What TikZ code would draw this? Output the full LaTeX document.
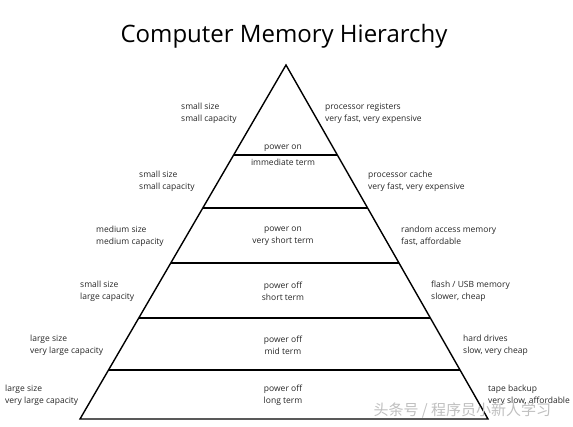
\documentclass[tikz,border=0pt]{standalone}
\usepackage{fontspec}
\setmainfont{Open Sans}
\newfontfamily\cjkfont{Noto Sans CJK SC}
\usetikzlibrary{calc}
\begin{document}
\begin{tikzpicture}[
  x=1pt, y=-1pt,
  level/.style={line width=1.4pt, draw=black},
  lbl/.style={font=\fontsize{8.5}{12}\selectfont, inner sep=0pt, align=left, anchor=west, text=black!85},
  mid/.style={font=\fontsize{8.5}{12}\selectfont, inner sep=0pt, align=center, text=black!85}
]
  \useasboundingbox (0,0) rectangle (573,426);

  % Title
  \node[font=\fontsize{24}{28}\selectfont] (title) at (284,36) {Computer Memory Hierarchy};

  % Corners of the pyramid
  \coordinate (top) at (286,65);
  \coordinate (bl) at (80,419);
  \coordinate (br) at (488,419);
  \draw[level, line join=miter] (bl) -- (top) -- (br) -- cycle;

  % Horizontal levels
  \foreach \t [count=\i] in {0.254,0.404,0.559,0.715,0.862} {
    \coordinate (l\i) at ($(top)!\t!(bl)$);
    \coordinate (r\i) at ($(top)!\t!(br)$);
    \draw[level] (l\i) -- (r\i);
  }

  % Inside the pyramid
  \node[mid] (c1) at (283,155) {power on\\[4pt]immediate term};
  \node[mid] (c2) at (283,236) {power on\\very short term};
  \node[mid] (c3) at (283,291) {power off\\short term};
  \node[mid] (c4) at (283,345) {power off\\mid term};
  \node[mid] (c5) at (283,395) {power off\\long term};

  % Left side
  \node[lbl] (s0) at (181,113) {small size\\small capacity};
  \node[lbl] (s1) at (139,181) {small size\\small capacity};
  \node[lbl] (s2) at (96,236) {medium size\\medium capacity};
  \node[lbl] (s3) at (80,291) {small size\\large capacity};
  \node[lbl] (s4) at (30,345) {large size\\very large capacity};
  \node[lbl] (s5) at (5,395) {large size\\very large capacity};

  % Right side
  \node[lbl] (m0) at (325,113) {processor registers\\very fast, very expensive};
  \node[lbl] (m1) at (368,181) {processor cache\\very fast, very expensive};
  \node[lbl] (m2) at (401,236) {random access memory\\fast, affordable};
  \node[lbl] (m3) at (431,291) {flash / USB memory\\slower, cheap};
  \node[lbl] (m4) at (463,345) {hard drives\\slow, very cheap};
  \node[lbl] (m5) at (488,395) {tape backup\\very slow, affordable};

  % Watermark
  \node[font=\cjkfont\fontsize{15}{18}\selectfont, text=black!25, anchor=west] (wm) at (370,410) {头条号 / 程序员小新人学习};
\end{tikzpicture}
\end{document}
